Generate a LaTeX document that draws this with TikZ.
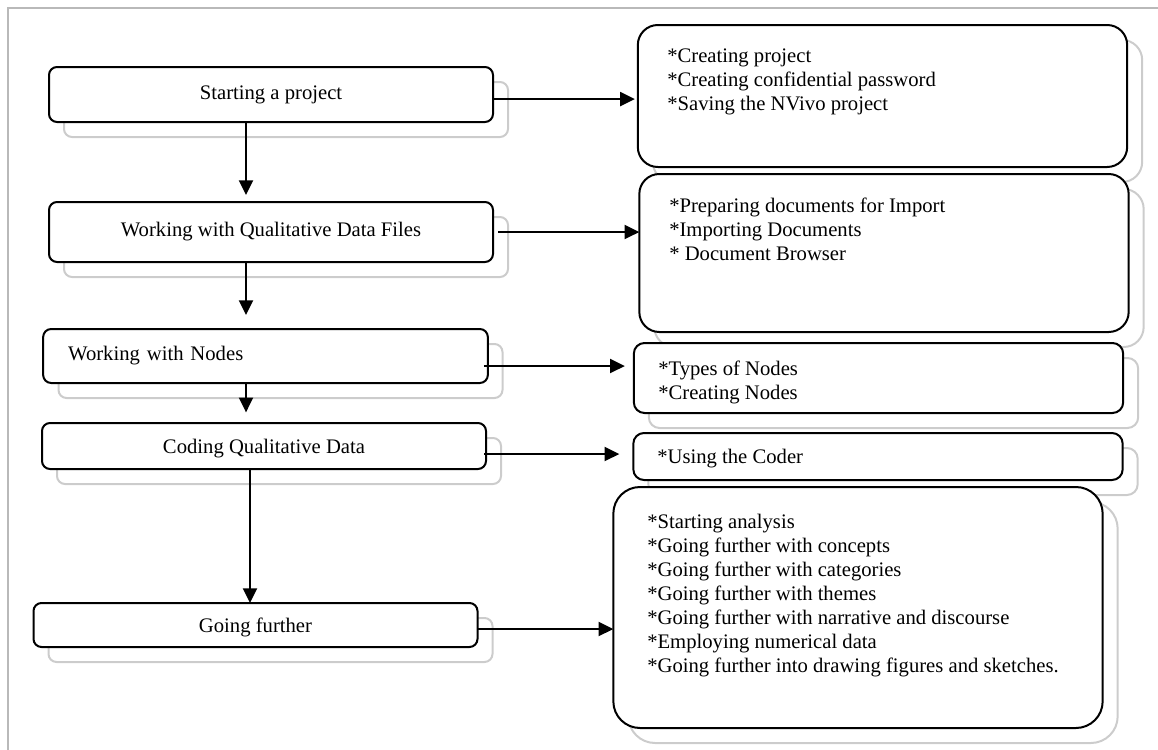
\documentclass[tikz,border=0pt]{standalone}
\usepackage{fontspec}
\setmainfont{Liberation Serif}
\usetikzlibrary{positioning, arrows.meta}

\begin{document}
\begin{tikzpicture}[x=0.75pt, y=-0.75pt,
        every node/.style={font=\fontsize{15.5}{18}\selectfont},
        stage/.style={draw, line width=1.5pt, rounded corners=6pt, fill=white, minimum width=333pt, inner sep=0pt, outer sep=0pt},
        stagesh/.style={draw=gray!40, line width=1.5pt, rounded corners=6pt, minimum width=333pt, inner sep=0pt},
        topic/.style={draw, line width=1.5pt, fill=white, minimum width=367pt, inner sep=0pt, outer sep=0pt},
        topicsh/.style={draw=gray!40, line width=1.5pt, minimum width=367pt, inner sep=0pt},
        items/.style={anchor=north west, inner sep=0pt, align=left},
        arr/.style={line width=1.5pt, -{Triangle[length=11pt, width=10.5pt]}}]
    \useasboundingbox (0,0) rectangle (1158,750);
    \draw[gray!55, line width=1.2pt] (8,750) -- (8,8) -- (1158,8);

    \node[stagesh, minimum height=41.25pt] (p1s) at (286,109.5) {};
    \node[stagesh, minimum height=45pt] (p2s) at (286,247) {};
    \node[stagesh, minimum height=40.5pt] (p3s) at (280.5,371) {};
    \node[stagesh, minimum height=34.5pt] (p4s) at (279,461) {};
    \node[stagesh, minimum height=33pt] (p5s) at (270.5,640) {};

    \node[stage, minimum height=41.25pt] (p1) at (271,94.5) {Starting a project};
    \node[stage, minimum height=45pt] (p2) at (271,232) {Working with Qualitative Data Files};
    \node[stage, minimum height=40.5pt, text width=296pt, inner xsep=18.75pt, align=left] (p3) at (265.5,356) {Working with Nodes};
    \node[stage, minimum height=34.5pt, text depth=0pt] (p4) at (264,446) {Coding Qualitative Data};
    \node[stage, minimum height=33pt, text depth=0pt] (p5) at (255.5,625) {Going further};

    \node[topicsh, rounded corners=15pt, minimum height=106.5pt] (r1s) at (897.5,111) {};
    \node[topicsh, rounded corners=15pt, minimum height=118.5pt] (r2s) at (899,268) {};
    \node[topicsh, rounded corners=8pt, minimum height=52.5pt] (r3s) at (893.5,393) {};
    \node[topicsh, rounded corners=8pt, minimum height=35.25pt] (r4s) at (893,471.5) {};
    \node[topicsh, rounded corners=20pt, minimum height=180.75pt] (r5s) at (873,622.5) {};

    \node[topic, rounded corners=15pt, minimum height=106.5pt] (r1) at (882.5,96) {};
    \node[topic, rounded corners=15pt, minimum height=118.5pt] (r2) at (884,253) {};
    \node[topic, rounded corners=8pt, minimum height=52.5pt] (r3) at (878.5,378) {};
    \node[topic, rounded corners=8pt, minimum height=35.25pt] (r4) at (878,456.5) {};
    \node[topic, rounded corners=20pt, minimum height=180.75pt] (r5) at (858,607.5) {};

    \node[items] (t1) at (667,45.2) {\strut*Creating project\\*Creating confidential password\\*Saving the NVivo project};
    \node[items] (t2) at (669,195.2) {\strut*Preparing documents for Import\\*Importing Documents\\* Document Browser};
    \node[items] (t3) at (658,358.2) {\strut*Types of Nodes\\*Creating Nodes};
    \node[items] (t4) at (657,446.2) {\strut*Using the Coder};
    \node[items] (t5) at (647,511.2) {\strut*Starting analysis\\*Going further with concepts\\*Going further with categories\\*Going further with themes\\*Going further with narrative and discourse\\*Employing numerical data\\*Going further into drawing figures and sketches.};

    \coordinate (spine) at (246,0);
    \coordinate (spine2) at (250,0);
    \draw[arr, shorten >=5.25pt] (p1.south -| spine) -- (p2.north -| spine);
    \draw[arr, shorten >=10.5pt] (p2.south -| spine) -- (p3.north -| spine);
    \draw[arr, shorten >=8pt] (p3.south -| spine) -- (p4.north -| spine);
    \draw[arr] (p4.south -| spine2) -- (p5.north -| spine2);

    \draw[arr, shorten >=2.25pt] ([yshift=-3.4pt]p1.east) -- ([yshift=-3.4pt]p1.east -| r1.west);
    \draw[arr] ([xshift=3.75pt]p2.east) -- (p2.east -| r2.west);
    \draw[arr, shorten >=6.75pt] ([xshift=-3pt, yshift=-7.5pt]p3.east) -- ([yshift=-7.5pt]p3.east -| r3.west);
    \draw[arr, shorten >=10.5pt] ([xshift=-1.5pt, yshift=-6pt]p4.east) -- ([yshift=-6pt]p4.east -| r4.west);
    \draw[arr] ([yshift=-3pt]p5.east) -- ([yshift=-3pt]p5.east -| r5.west);
\end{tikzpicture}
\end{document}
